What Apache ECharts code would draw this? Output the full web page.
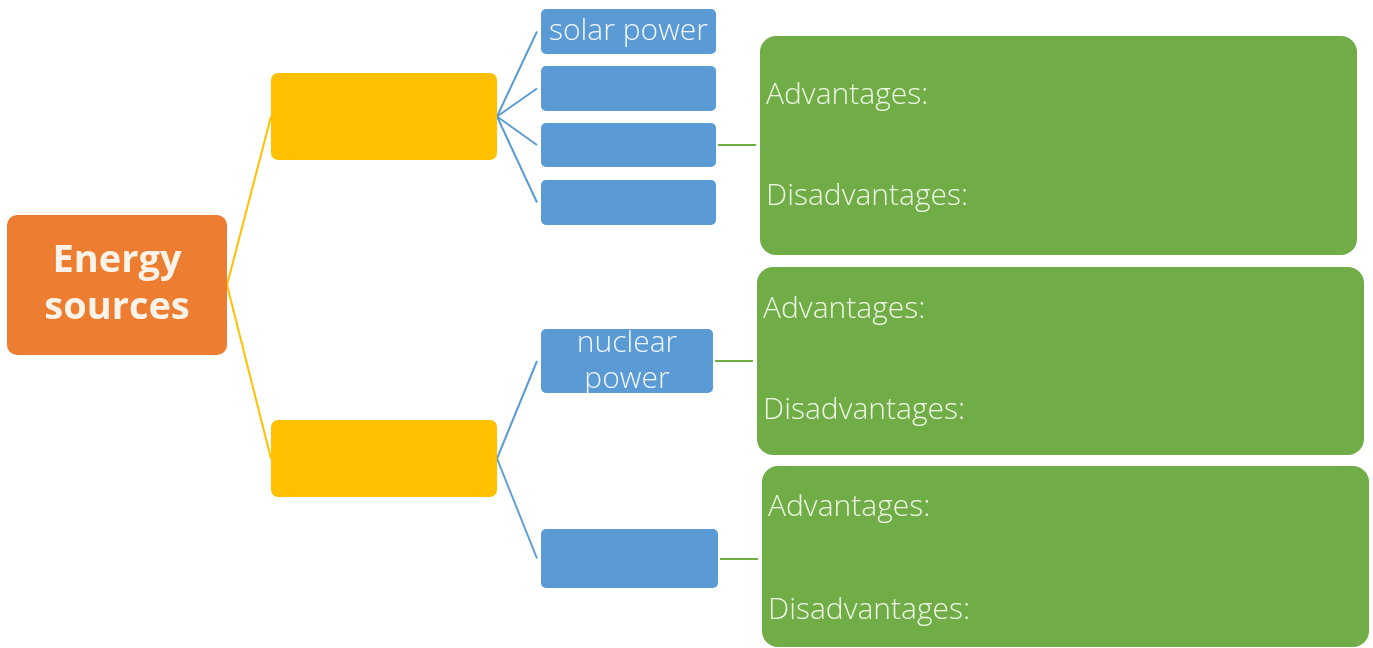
<!DOCTYPE html>
<html>
<head>
<meta charset="utf-8">
<script src="https://cdn.jsdelivr.net/npm/echarts@6/dist/echarts.min.js"></script>
<style>
  html, body { margin: 0; padding: 0; background: #fff; }
  #map { width: 1373px; height: 648px; }
</style>
</head>
<body>
<div id="map"></div>
<script>
// boxes are [left, top, right, bottom] in picture units
let rootBox = [7, 215, 227, 355]
let rootLabel = 'Energy\nsources'

let groupBoxes = [[271, 73, 497, 160], [271, 420, 497, 497]]

let sourceBoxes = [
  [541, 9, 716, 54],
  [541, 66, 716, 111],
  [541, 123, 716, 167],
  [541, 180, 716, 225],
  [541, 329, 713, 393],
  [541, 529, 718, 588]
]
let sourceLabels = ['solar power', '', '', '', 'nuclear\npower', '']
let sourceGroup = [0, 0, 0, 0, 1, 1]

// note box: left, top, right, bottom, y of "Advantages", y of "Disadvantages"
let noteBoxes = [
  [760, 36, 1357, 255, 95, 196],
  [757, 267, 1364, 455, 309, 410],
  [762, 466, 1369, 647, 507, 610]
]
let noteSource = [2, 4, 5]
let noteLabels = ['Advantages:', 'Disadvantages:']

let orange = '#ED7D31'
let yellow = '#FFC000'
let blue = '#5B9BD5'
let green = '#70AD47'
let font = '"Open Sans", Lato, sans-serif'

function rightMid(b) { return [b[2], (b[1] + b[3]) / 2] }
function leftMid(b) { return [b[0], (b[1] + b[3]) / 2] }

let yellowLinks = groupBoxes.map(b => ({coords: [rightMid(rootBox), leftMid(b)]}))
let blueLinks = sourceBoxes.map((b, i) => {
  let to = leftMid(b)
  return {coords: [rightMid(groupBoxes[sourceGroup[i]]), [to[0] - 4, to[1]]]}
})
let greenLinks = noteBoxes.map((b, i) => {
  let from = rightMid(sourceBoxes[noteSource[i]])
  return {coords: [[from[0] + 2, from[1]], [b[0] - 4, from[1]]]}
})

function rectOf(api) {
  let p0 = api.coord([api.value(0), api.value(1)])
  let p1 = api.coord([api.value(2), api.value(3)])
  return {
    x: Math.min(p0[0], p1[0]),
    y: Math.min(p0[1], p1[1]),
    width: Math.abs(p1[0] - p0[0]),
    height: Math.abs(p1[1] - p0[1])
  }
}

function boxSeries(data, color, radius, labels, textFont, textColor, lineHeight) {
  return {
    type: 'custom',
    silent: true,
    z: 3,
    data: data,
    renderItem: function (params, api) {
      let r = rectOf(api)
      return {
        type: 'rect',
        shape: {x: r.x, y: r.y, width: r.width, height: r.height, r: radius},
        style: {fill: color},
        textContent: {
          style: {
            text: labels ? labels[params.dataIndex] : '',
            fill: textColor,
            font: textFont,
            align: 'center',
            verticalAlign: 'middle',
            lineHeight: lineHeight
          }
        },
        textConfig: {position: 'inside'}
      }
    }
  }
}

function linkSeries(data, color) {
  return {
    type: 'lines',
    coordinateSystem: 'cartesian2d',
    silent: true,
    z: 1,
    data: data,
    lineStyle: {color: color, width: 2, opacity: 1}
  }
}

let chart = echarts.init(document.getElementById('map'))
chart.setOption({
  animation: false,
  grid: {left: 0, right: 0, top: 0, bottom: 0},
  xAxis: {type: 'value', min: 0, max: 1373, show: false},
  yAxis: {type: 'value', min: 0, max: 648, inverse: true, show: false},
  series: [
    linkSeries(yellowLinks, yellow),
    linkSeries(blueLinks, blue),
    linkSeries(greenLinks, green),
    boxSeries([rootBox], orange, 10, [rootLabel], 'bold 38px ' + font, '#fdf3e8', 47),
    boxSeries(groupBoxes, yellow, 7, null, '24px ' + font, '#fff', 30),
    boxSeries(sourceBoxes, blue, 5, sourceLabels, '300 30px ' + font, '#f2f6fc', 36),
    {
      type: 'custom',
      silent: true,
      z: 3,
      data: noteBoxes,
      renderItem: function (params, api) {
        let r = rectOf(api)
        let left = api.value(0)
        let texts = [api.value(4), api.value(5)].map((y, k) => {
          let p = api.coord([left + 6, y])
          return {
            type: 'text',
            style: {
              x: p[0], y: p[1],
              text: noteLabels[k],
              fill: '#eef6e6',
              font: '300 30px ' + font,
              align: 'left',
              verticalAlign: 'middle'
            }
          }
        })
        return {
          type: 'group',
          children: [{
            type: 'rect',
            shape: {x: r.x, y: r.y, width: r.width, height: r.height, r: 16},
            style: {fill: green}
          }].concat(texts)
        }
      }
    }
  ]
})
</script>
</body>
</html>
